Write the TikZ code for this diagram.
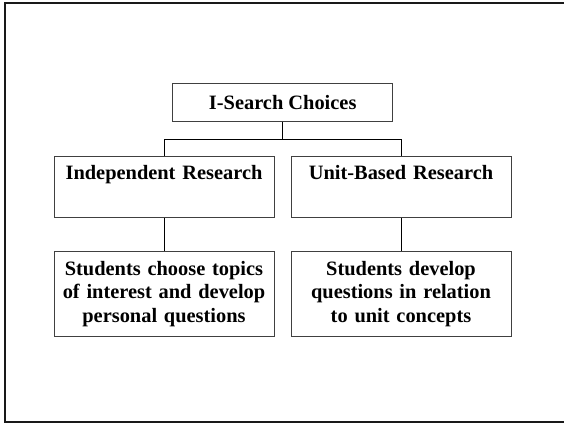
\documentclass[tikz,border=0pt]{standalone}
\usepackage{fontspec}
\setmainfont{Liberation Serif}
\begin{document}
\begin{tikzpicture}[x=1pt, y=-1pt,
    box/.style={draw=black!75, line width=1pt, fill=white, inner sep=0pt, align=center, font=\fontsize{20.4}{23.5}\selectfont\bfseries},
    link/.style={draw=black, line width=1pt}]

        \clip (0,0) rectangle (564,424);

        % Frame
        \draw[line width=1.8pt, black!90] (5,3) rectangle (580,422);

        % Top box
        \node[box, minimum width=220pt, minimum height=37.7pt] (choices) at (282.7,102.2) {I-Search Choices};

        % Research kinds
        \node[box, text width=220pt, text height=23.6pt, text depth=37.7pt, anchor=north] (indep) at (164,155.7) {Independent Research};
        \node[box, text width=220pt, text height=23.6pt, text depth=37.7pt, anchor=north] (unit) at (401,155.7) {Unit-Based Research};

        % Descriptions
        \node[box, text width=220pt, minimum height=84.3pt] (choose) at (164,293.9) {Students choose topics\\of interest and develop\\personal questions};
        \node[box, text width=220pt, minimum height=84.3pt] (develop) at (401,293.9) {Students develop\\questions in relation\\to unit concepts};

        % Connectors
        \coordinate (split) at (282.7,139);
        \draw[link] (choices) -- (split);
        \draw[link] (split) -| (indep.north);
        \draw[link] (split) -| (unit.north);
        \draw[link] (indep) -- (choose);
        \draw[link] (unit) -- (develop);

    \end{tikzpicture}
\end{document}
